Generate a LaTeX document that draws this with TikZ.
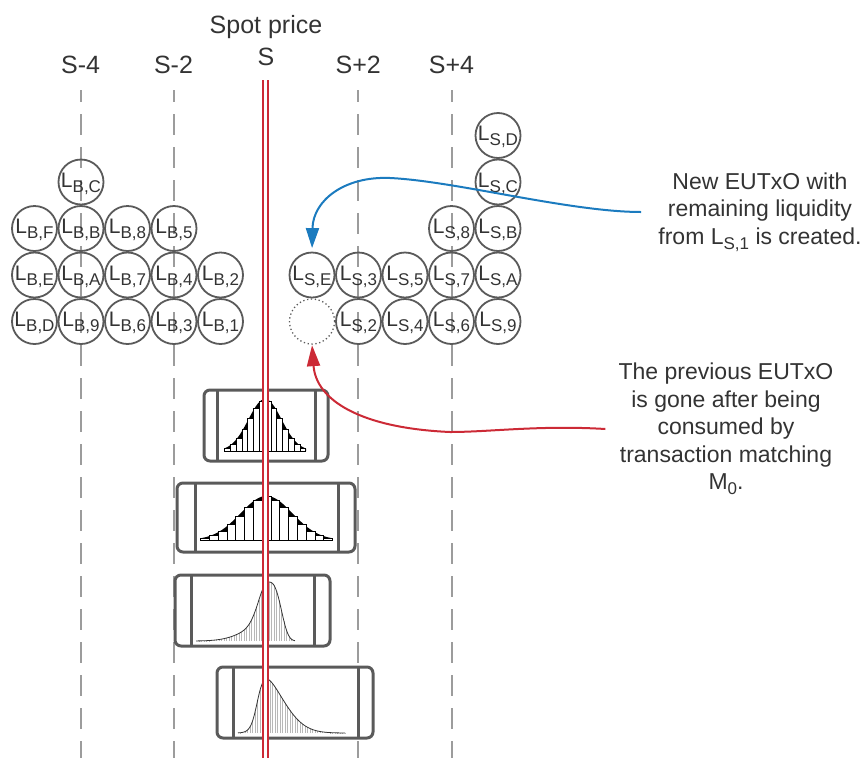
\documentclass[tikz,border=0pt]{standalone}
\usepackage{fontspec}
\setmainfont{Liberation Sans}
\usetikzlibrary{arrows.meta}
\definecolor{txt}{HTML}{333333}
\definecolor{cgray}{HTML}{5A5A5A}
\definecolor{dgray}{HTML}{9C9C9C}
\definecolor{spotred}{HTML}{CC2A36}
\definecolor{arrblue}{HTML}{1B7BBF}
\newcommand{\Lsub}[2]{#1\raisebox{-5pt}{\fontsize{17}{17}\selectfont #2}}
\newcommand{\Nsub}[2]{#1\raisebox{-5pt}{\fontsize{17}{17}\selectfont #2}}
\begin{document}
\begin{tikzpicture}[x=1pt,y=-1pt,
  liq/.style={circle, draw=cgray, line width=1.8pt, minimum size=45pt, inner sep=0pt,
    text=txt, font=\fontsize{21}{25}\selectfont, text height=15pt, text depth=5pt},
  gone/.style={circle, draw=cgray, line width=1.3pt, dash pattern=on 1.3pt off 2.6pt,
    minimum size=45pt, inner sep=0pt},
  guide/.style={draw=dgray, line width=2pt, dash pattern=on 21pt off 12pt, dash phase=9pt},
  toplab/.style={text=txt, font=\fontsize{25}{30}\selectfont, anchor=base, inner sep=0pt},
  note/.style={text=txt, font=\fontsize{23}{27.5}\selectfont, align=center, inner sep=0pt},
  hbox/.style={draw=cgray, line width=3pt, rounded corners=6pt, inner sep=0pt, outer sep=0pt},
  hbar/.style={draw=cgray, line width=3pt},
  bar/.style={draw=black, fill=white, line width=0.6pt},
  curve/.style={draw=black!80, line width=0.8pt},
  hatch/.style={draw=black!28, line width=0.5pt},
  spot/.style={draw=spotred, line width=1.7pt, double=white, double distance=3.3pt},
  barrow/.style={draw=arrblue, line width=2pt, -{Triangle[length=20pt,width=13pt]}},
  rarrow/.style={draw=spotred, line width=2pt, -{Triangle[length=21pt,width=13pt]}},
  declare function={
    gA(\x)=52*exp(-((\x-265)*(\x-265))/551.1);
    gB(\x)=44*exp(-((\x-266.5)*(\x-266.5))/1352);
    gC(\x)=59*ifthenelse(\x>268,
       exp(-(abs(\x-268)/15.5)^3),
       0.7*exp(-((\x-268)*(\x-268))/162)+0.3*exp(-((\x-268)*(\x-268))/968));
    tD(\x)=(\x-257.3)/23;
    gD(\x)=62.3*exp(-tD(\x)*tD(\x)/2)/(1+exp(-6.808*tD(\x)));
  }]
\useasboundingbox (0,0) rectangle (861,758);

% top labels
\node[toplab] (spotlab) at (266,33) {Spot price};
\node[toplab] (slab) at (266,65) {S};
\node[toplab] (sm4) at (80.7,73) {S-4};
\node[toplab] (sm2) at (173.5,73) {S-2};
\node[toplab] (sp2) at (358.3,73) {S+2};
\node[toplab] (sp4) at (451.5,73) {S+4};

% guide lines
\draw[guide] (80.7,90) -- (80.7,758);
\draw[guide] (173.5,90) -- (173.5,758);
\draw[guide] (358.3,90) -- (358.3,758);
\draw[guide] (451.5,90) -- (451.5,758);

% buy side liquidity
\node[liq] (bC) at (81,182) {\Lsub{L}{B,C}};
\node[liq] (bF) at (34.5,228.5) {\Lsub{L}{B,F}};
\node[liq] (bB) at (81,228.5) {\Lsub{L}{B,B}};
\node[liq] (b8) at (127.5,228.5) {\Lsub{L}{B,8}};
\node[liq] (b5) at (174,228.5) {\Lsub{L}{B,5}};
\node[liq] (bE) at (34.5,275) {\Lsub{L}{B,E}};
\node[liq] (bA) at (81,275) {\Lsub{L}{B,A}};
\node[liq] (b7) at (127.5,275) {\Lsub{L}{B,7}};
\node[liq] (b4) at (174,275) {\Lsub{L}{B,4}};
\node[liq] (b2) at (220.5,275) {\Lsub{L}{B,2}};
\node[liq] (bD) at (34.5,321.5) {\Lsub{L}{B,D}};
\node[liq] (b9) at (81,321.5) {\Lsub{L}{B,9}};
\node[liq] (b6) at (127.5,321.5) {\Lsub{L}{B,6}};
\node[liq] (b3) at (174,321.5) {\Lsub{L}{B,3}};
\node[liq] (b1) at (220.5,321.5) {\Lsub{L}{B,1}};

% sell side liquidity
\node[liq] (sD) at (498,135.5) {\Lsub{L}{S,D}};
\node[liq] (sC) at (498,182) {\Lsub{L}{S,C}};
\node[liq] (s8) at (451.5,228.5) {\Lsub{L}{S,8}};
\node[liq] (sB) at (498,228.5) {\Lsub{L}{S,B}};
\node[liq] (sE) at (312,275) {\Lsub{L}{S,E}};
\node[liq] (s3) at (358.5,275) {\Lsub{L}{S,3}};
\node[liq] (s5) at (405,275) {\Lsub{L}{S,5}};
\node[liq] (s7) at (451.5,275) {\Lsub{L}{S,7}};
\node[liq] (sA) at (498,275) {\Lsub{L}{S,A}};
\node[gone] (s1) at (312,321.5) {};
\node[liq] (s2) at (358.5,321.5) {\Lsub{L}{S,2}};
\node[liq] (s4) at (405,321.5) {\Lsub{L}{S,4}};
\node[liq] (s6) at (451.5,321.5) {\Lsub{L}{S,6}};
\node[liq] (s9) at (498,321.5) {\Lsub{L}{S,9}};

% box 1 : narrow histogram
\node[hbox, minimum width=124pt, minimum height=71pt] (h1) at (266,425.5) {};
\draw[hbar] ([xshift=13pt]h1.north west) -- ([xshift=13pt]h1.south west);
\draw[hbar] ([xshift=-13pt]h1.north east) -- ([xshift=-13pt]h1.south east);
\fill[black] (225,451) -- plot[domain=225:306, samples=90] (\x,{451-gA(\x)}) -- (306,451) -- cycle;
\foreach \i in {0,...,13} {
  \pgfmathsetmacro{\hl}{224.4+5.8*\i}
  \pgfmathsetmacro{\hr}{\hl+5.8}
  \pgfmathsetmacro{\hd}{abs(\hl+2.9-265)+1.6}
  \pgfmathsetmacro{\hh}{gA(265+\hd)}
  \draw[bar] (\hl,451) rectangle (\hr,{451-\hh});
}

% box 2 : wide histogram
\node[hbox, minimum width=178pt, minimum height=69pt] (h2) at (266,517.5) {};
\draw[hbar] ([xshift=18pt]h2.north west) -- ([xshift=18pt]h2.south west);
\draw[hbar] ([xshift=-17pt]h2.north east) -- ([xshift=-17pt]h2.south east);
\fill[black] (201,540) -- plot[domain=201:332, samples=110] (\x,{540-gB(\x)}) -- (332,540) -- cycle;
\foreach \i in {0,...,14} {
  \pgfmathsetmacro{\hl}{200.5+8.8*\i}
  \pgfmathsetmacro{\hr}{\hl+8.8}
  \pgfmathsetmacro{\hd}{abs(\hl+4.4-266.5)+2.4}
  \pgfmathsetmacro{\hh}{gB(266.5+\hd)}
  \draw[bar] (\hl,540) rectangle (\hr,{540-\hh});
}

% box 3 : left-skewed density
\node[hbox, minimum width=155pt, minimum height=71pt] (h3) at (252.5,610.5) {};
\draw[hbar] ([xshift=16pt]h3.north west) -- ([xshift=16pt]h3.south west);
\draw[hbar] ([xshift=-16pt]h3.north east) -- ([xshift=-16pt]h3.south east);
\foreach \xx in {199,201.5,...,295} {
  \draw[hatch] (\xx,641) -- (\xx,{641-gC(\xx)});
}
\draw[curve] plot[domain=196:295, samples=120] (\x,{641-gC(\x)});

% box 4 : right-skewed density
\node[hbox, minimum width=156pt, minimum height=71pt] (h4) at (295,702.5) {};
\draw[hbar] ([xshift=16pt]h4.north west) -- ([xshift=16pt]h4.south west);
\draw[hbar] ([xshift=-15pt]h4.north east) -- ([xshift=-15pt]h4.south east);
\foreach \xx in {240,242.5,...,345} {
  \draw[hatch] (\xx,733) -- (\xx,{733-gD(\xx)});
}
\draw[curve] plot[domain=238:345, samples=100] (\x,{733-gD(\x)});

% spot price line
\coordinate (spotTop) at (265.8,80);
\coordinate (spotBot) at (265.8,758);
\draw[spot] (spotTop) -- (spotBot);

% notes
\node[note] (noteA) at (760,212) {New EUTxO with\\remaining liquidity\\from \Nsub{L}{S,1} is created.};
\node[note] (noteB) at (726,429) {The previous EUTxO\\is gone after being\\consumed by\\transaction matching\\\Nsub{M}{0}.};

% arrows
\draw[barrow, shorten >=3.5pt] ([xshift=-17pt]noteA.west)
  .. controls (570,212) and (455,181) .. (390,178)
  .. controls (345,176) and (313,200) .. (sE.north);
\draw[rarrow, shorten >=0.5pt] ([xshift=-13pt]noteB.west)
  .. controls (540,425) and (490,432) .. (450,432)
  .. controls (360,428) and (316,400) .. (s1.south);
\end{tikzpicture}
\end{document}
